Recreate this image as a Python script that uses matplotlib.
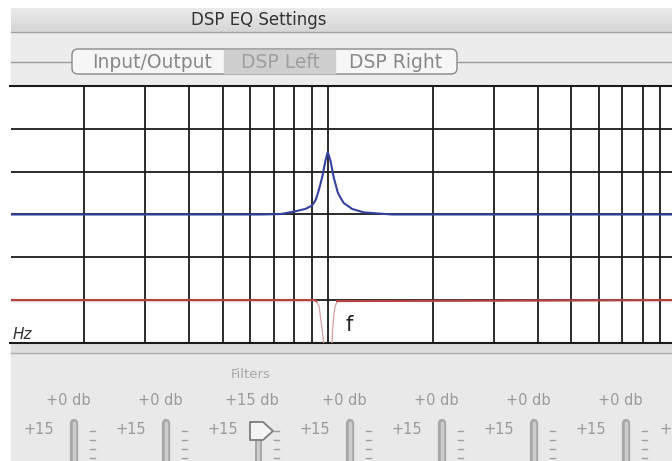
import matplotlib.pyplot as plt
import numpy as np
from matplotlib.patches import Rectangle, FancyBboxPatch, Polygon
from matplotlib.colors import LinearSegmentedColormap
from matplotlib.ticker import NullLocator

# frequency grid (Hz) and level grid
grid_freqs = [200, 300, 400, 500, 600, 700, 800, 900, 1000,
              2000, 3000, 4000, 5000, 6000, 7000, 8000, 9000]
grid_levels = [1, 2, 3, 4, 5]
freq_range = (123, 9720)
level_range = (0, 6)

# left channel response (blue)
blue_freq = [100, 641, 732, 803, 863, 902, 925, 942, 964, 985, 1000,
             1018, 1040, 1068, 1090, 1111, 1175, 1268, 1416, 1530, 10000]
blue_level = [3.0, 3.0, 3.01, 3.07, 3.13, 3.21, 3.35, 3.56, 3.87, 4.26, 4.46,
              4.26, 3.87, 3.52, 3.38, 3.27, 3.13, 3.05, 3.02, 3.0, 3.0]

# right channel response (red) with its notch
red_freq = [100, 916, 928, 945, 953, 964, 974, 1000, 1029, 1032, 1040, 1047, 1064, 10000]
red_level = [1.0, 1.0, 0.98, 0.85, 0.61, 0.30, 0.0, -1.5, 0.0, 0.30, 0.61, 0.81, 0.98, 1.0]

tabs = ['Input/Output', 'DSP Left', 'DSP Right']
slider_gains = ['+0 db', '+0 db', '+15 db', '+0 db', '+0 db', '+0 db', '+0 db']
slider_max = '+15'
active_slider = 2

W, H = 672, 461
fig = plt.figure(figsize=(W / 100, H / 100), dpi=100)
fig.patch.set_facecolor('white')

# ---- window chrome, drawn in pixel coords
bg = fig.add_axes([0, 0, 1, 1])
bg.set_xlim(0, W)
bg.set_ylim(H, 0)
bg.axis('off')

L = 10.5
grad = np.linspace(0, 1, 50).reshape(-1, 1)
bg.imshow(grad, extent=[L, W, 32, 8], cmap=LinearSegmentedColormap.from_list('tb', ['#ebebeb', '#d6d6d6']),
          aspect='auto', zorder=1)
bg.plot([L, W], [32, 32], color='#a0a0a0', lw=1, zorder=2)
bg.add_patch(Rectangle((L, 32.5), W - L, 54, color='#ececec', zorder=1))
bg.text(259, 20, 'DSP EQ Settings', ha='center', va='center', fontsize=12, color='#333333', zorder=3)

# segmented control
bg.plot([L, 72], [62, 62], color='#9a9a9a', lw=1, zorder=2)
bg.plot([457, W], [62, 62], color='#9a9a9a', lw=1, zorder=2)
bg.add_patch(FancyBboxPatch((72, 49), 385, 25, boxstyle='round,pad=0,rounding_size=6',
                            fc='#f6f6f6', ec='#8a8a8a', lw=1, zorder=3))
bg.add_patch(Rectangle((224, 49.6), 111, 23.8, color='#cfcfcf', zorder=4))
tab_x = [152, 280, 396]
for tx, name in zip(tab_x, tabs):
    bg.text(tx, 62, name, ha='center', va='center', fontsize=13.5,
            color='#a0a0a0' if name == 'DSP Left' else '#888888', zorder=5)

# bottom panel
bg.add_patch(Rectangle((L, 343), W - L, 10, color='#dedede', zorder=1))
bg.plot([L, W], [353, 353], color='#ababab', lw=1, zorder=2)
bg.add_patch(Rectangle((L, 353.5), W - L, H - 353, color='#e9e9e9', zorder=1))
bg.text(251, 374, 'Filters', ha='center', va='center', fontsize=9.5, color='#a6a6a6', zorder=3)

for i, g in enumerate(slider_gains):
    tx = 74 + 92 * i
    bg.text(tx - 6, 400, g, ha='center', va='center', fontsize=10.5, color='#9a9a9a', zorder=3)
    bg.text(tx - 35, 429, slider_max, ha='center', va='center', fontsize=10.5, color='#9a9a9a', zorder=3)
    for dy in [431, 440, 449, 458]:
        bg.plot([tx + 16, tx + 21], [dy, dy], color='#a0a0a0', lw=1, zorder=3)
    if i == active_slider:
        bg.plot([tx - 0.5, tx - 0.5], [440, 470], color='#a8a8a8', lw=5, zorder=3)
        bg.plot([tx - 0.5, tx - 0.5], [440, 470], color='#cfcfcf', lw=2, zorder=3)
        bg.add_patch(Polygon([(tx - 8, 422), (tx + 5, 422), (tx + 15, 431), (tx + 5, 440), (tx - 8, 440)],
                             closed=True, fc='#f4f4f4', ec='#7c7c7c', lw=1.3, joinstyle='round', zorder=4))
    else:
        bg.plot([tx, tx], [423, 475], color='#a8a8a8', lw=6, solid_capstyle='round', zorder=3)
        bg.plot([tx, tx], [423, 475], color='#cdcdcd', lw=2.5, solid_capstyle='round', zorder=3)
# the next slider's label, cut by the window edge
bg.text(W, 429, '+', ha='right', va='center', fontsize=10.5, color='#9a9a9a', zorder=3)

# ---- EQ plot
ax = fig.add_axes([L / W, (H - 343) / H, (W - L) / W, 257 / H])
ax.set_facecolor('white')
ax.set_xscale('log')
ax.set_xlim(*freq_range)
ax.set_ylim(*level_range)
ax.set_xticks(grid_freqs)
ax.set_yticks(grid_levels)
ax.xaxis.set_minor_locator(NullLocator())
ax.grid(True, color='#1a1a1a', lw=1.3)
ax.tick_params(length=0, labelbottom=False, labelleft=False)
for s in ['left', 'right']:
    ax.spines[s].set_visible(False)
for s in ['top', 'bottom']:
    ax.spines[s].set_color('#1a1a1a')
    ax.spines[s].set_linewidth(1.5)

red_level = np.array(red_level)
ax.plot(red_freq, red_level, color='#d9a0a0', lw=0.9, zorder=3)
ax.plot(red_freq, np.where(red_level >= 0.97, red_level, np.nan), color='#b5433f', lw=1.6, zorder=3)
ax.plot(blue_freq, blue_level, color='#34419f', lw=1.5, zorder=4)

fig.text(13 / W, 1 - 334 / H, 'Hz', ha='left', va='center', fontsize=11, style='italic', color='#333333', zorder=10)
fig.text(349.5 / W, 1 - 325 / H, 'f', ha='center', va='center', fontsize=15, color='#222222', zorder=10)

fig.savefig('out.png', dpi=100)
